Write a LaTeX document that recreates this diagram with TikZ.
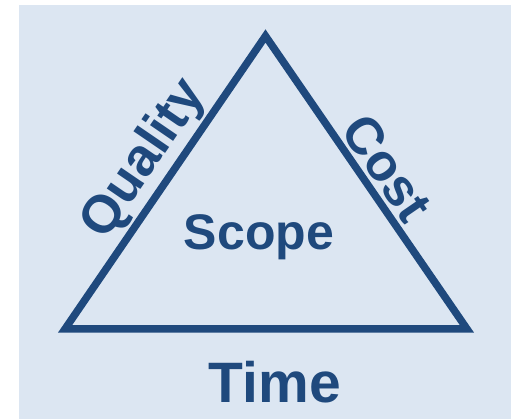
\documentclass[tikz,border=0pt]{standalone}
\usepackage{fontspec}
\setmainfont{Liberation Sans}
\definecolor{tridark}{HTML}{1F497D}
\definecolor{bgblue}{HTML}{DCE6F2}
\begin{document}
\begin{tikzpicture}[x=1pt,y=-1pt,
    side/.style={draw=tridark, line width=7.5pt, line join=miter},
    lbl/.style={text=tridark, inner sep=0pt, font=\bfseries\fontsize{50}{50}\selectfont}]
    \useasboundingbox (0,0) rectangle (511,419);
    \fill[bgblue] (19,5) rectangle (511,419);
    \coordinate (TOP) at (265.5,36);
    \coordinate (BL) at (65,329);
    \coordinate (BR) at (467,329);
    \draw[side] (TOP) -- (BL) -- (BR) -- cycle;
    \node[lbl, anchor=base] at (259,250) (SC) {Scope};
    \node[lbl, anchor=base, font=\bfseries\fontsize{57}{57}\selectfont] at (275,402) (TI) {Time};
    \path (BL) -- (TOP) node[lbl, pos=0.52, sloped, above=5pt, font=\bfseries\fontsize{53}{53}\selectfont] (QU) {Quality};
    \path (TOP) -- (BR) node[lbl, pos=0.5, sloped, above=7pt, font=\bfseries\fontsize{52}{52}\selectfont] (CO) {Cost};
\end{tikzpicture}
\end{document}
